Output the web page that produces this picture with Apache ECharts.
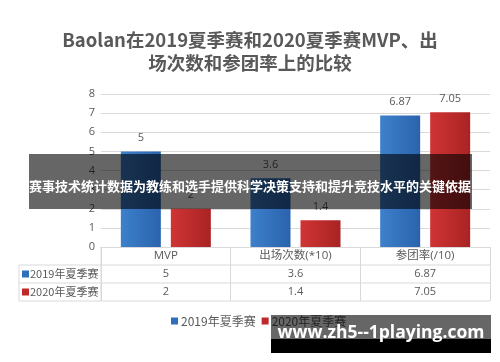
<!DOCTYPE html>
<html>
<head>
<meta charset="utf-8">
<script src="https://cdn.jsdelivr.net/npm/echarts@6/dist/echarts.min.js"></script>
<style>html,body{margin:0;padding:0;background:#fff}#c{width:500px;height:362px}</style>
</head>
<body>
<div id="c"></div>
<script>
var titleText = 'Baolan在2019夏季赛和2020夏季赛MVP、出\n场次数和参团率上的比较';
var categories = ['MVP', '出场次数(*10)', '参团率(/10)'];
var seriesNames = ['2019年夏季赛', '2020年夏季赛'];
var values2019 = [5, 3.6, 6.87];
var values2020 = [2, 1.4, 7.05];
var yTicks = [0, 1, 2, 3, 4, 5, 6, 7, 8];
var bannerText = '赛事技术统计数据为教练和选手提供科学决策支持和提升竞技水平的关键依据';
var watermarkText = 'www.zh5--1playing.com';

var FONT = '"Open Sans","Noto Sans CJK SC",sans-serif';
var CJK = '"Noto Sans CJK SC","Noto Sans",sans-serif';
var GRAY = '#595959';
var LINE = '#d9d9d9';
var BLUE = '#2e6fbd';
var RED = '#c0292b';

var gridLeft = 101, gridRight = 490, gridTop = 94, gridBottom = 247;
var rowH = 18;

var chart = echarts.init(document.getElementById('c'));

function grad(c1, c2) {
  return new echarts.graphic.LinearGradient(0, 0, 1, 0, [{offset: 0, color: c1}, {offset: 1, color: c2}]);
}

var graphics = [];
// title (two centred lines)
titleText.split('\n').forEach(function (line, i) {
  graphics.push({type: 'text', x: 250, y: 40 + i * 23, style: {text: line, fill: GRAY, font: 'bold 18.5px ' + CJK, textAlign: 'center', align: 'center', textVerticalAlign: 'middle', verticalAlign: 'middle'}});
});
// table horizontal lines
[1, 2, 3].forEach(function (i) {
  graphics.push({type: 'line', shape: {x1: 19, y1: gridBottom + rowH * i, x2: gridRight, y2: gridBottom + rowH * i}, style: {stroke: LINE, lineWidth: 1}, silent: true});
});
graphics.push({type: 'line', shape: {x1: 19, y1: gridBottom + rowH, x2: 19, y2: gridBottom + rowH * 3}, style: {stroke: LINE, lineWidth: 1}});
graphics.push({type: 'line', shape: {x1: gridLeft, y1: gridBottom, x2: gridLeft, y2: gridBottom + rowH * 3}, style: {stroke: LINE, lineWidth: 1}});
// row headers
[[seriesNames[0], BLUE], [seriesNames[1], RED]].forEach(function (r, i) {
  var cy = gridBottom + rowH * (i + 1.5);
  graphics.push({type: 'rect', shape: {x: 22, y: cy - 3.5, width: 7, height: 7}, style: {fill: r[1]}});
  graphics.push({type: 'text', x: 30, y: cy, style: {text: r[0], fill: GRAY, font: '11px ' + CJK, textVerticalAlign: 'middle', verticalAlign: 'middle'}});
});
// banner overlay
graphics.push({type: 'rect', z: 100, shape: {x: 29, y: 154, width: 443, height: 55}, style: {fill: 'rgba(0,0,0,0.6)'}});
graphics.push({type: 'text', z: 101, x: 250, y: 186, style: {text: bannerText, fill: '#fff', font: 'bold 13px ' + CJK, textAlign: 'center', align: 'center', textVerticalAlign: 'middle', verticalAlign: 'middle'}});
// watermark
graphics.push({type: 'rect', z: 100, shape: {x: 271, y: 315, width: 220, height: 24}, style: {fill: 'rgba(0,0,0,0.6)'}});
graphics.push({type: 'rect', z: 100, shape: {x: 271, y: 339, width: 220, height: 14}, style: {fill: '#000'}});
graphics.push({type: 'text', z: 101, x: 381, y: 333, style: {text: watermarkText, fill: '#fff', font: 'bold 17.5px "Open Sans",sans-serif', textAlign: 'center', align: 'center', textVerticalAlign: 'middle', verticalAlign: 'middle'}});

var option = {
  animation: false,
  backgroundColor: '#fff',
  legend: {
    data: [
      {name: seriesNames[0], itemStyle: {color: BLUE}},
      {name: seriesNames[1], itemStyle: {color: RED}}
    ],
    bottom: 30,
    left: 166,
    itemWidth: 7,
    itemHeight: 7,
    itemGap: 6,
    icon: 'rect',
    textStyle: {color: GRAY, fontSize: 12, fontFamily: CJK, padding: [0, 0, 0, -2]}
  },
  grid: {left: gridLeft, right: 500 - gridRight, top: gridTop, bottom: 362 - gridBottom},
  xAxis: {
    type: 'category',
    data: categories,
    axisLine: {show: true, lineStyle: {color: LINE}},
    axisTick: {show: true, length: rowH * 3, lineStyle: {color: LINE}, alignWithLabel: false},
    axisLabel: {
      interval: 0,
      margin: 0,
      color: GRAY,
      fontSize: 11,
      fontFamily: FONT,
      formatter: function (v, idx) {
        return '{h|' + v + '}\n{v|' + values2019[idx] + '}\n{v|' + values2020[idx] + '}';
      },
      rich: {
        h: {lineHeight: rowH, fontSize: 11.5, color: GRAY, fontFamily: FONT},
        v: {lineHeight: rowH, fontSize: 11, color: GRAY, fontFamily: FONT}
      }
    }
  },
  yAxis: {
    type: 'value',
    min: yTicks[0],
    max: yTicks[yTicks.length - 1],
    interval: 1,
    axisLine: {show: false},
    axisTick: {show: false},
    axisLabel: {color: GRAY, fontSize: 11, fontFamily: FONT, margin: 6},
    splitLine: {lineStyle: {color: LINE}}
  },
  series: [
    {
      name: seriesNames[0], type: 'bar', data: values2019,
      barWidth: 40, barGap: '25%',
      itemStyle: {color: grad('#3d80cc', '#2a63ad')},
      label: {show: true, position: 'top', distance: 8, color: GRAY, fontSize: 11, fontFamily: FONT}
    },
    {
      name: seriesNames[1], type: 'bar', data: values2020,
      barWidth: 40,
      itemStyle: {color: grad('#d03434', '#a92324')},
      label: {show: true, position: 'top', distance: 8, color: GRAY, fontSize: 11, fontFamily: FONT}
    }
  ],
  graphic: graphics
};
chart.setOption(option);
</script>
</body>
</html>
